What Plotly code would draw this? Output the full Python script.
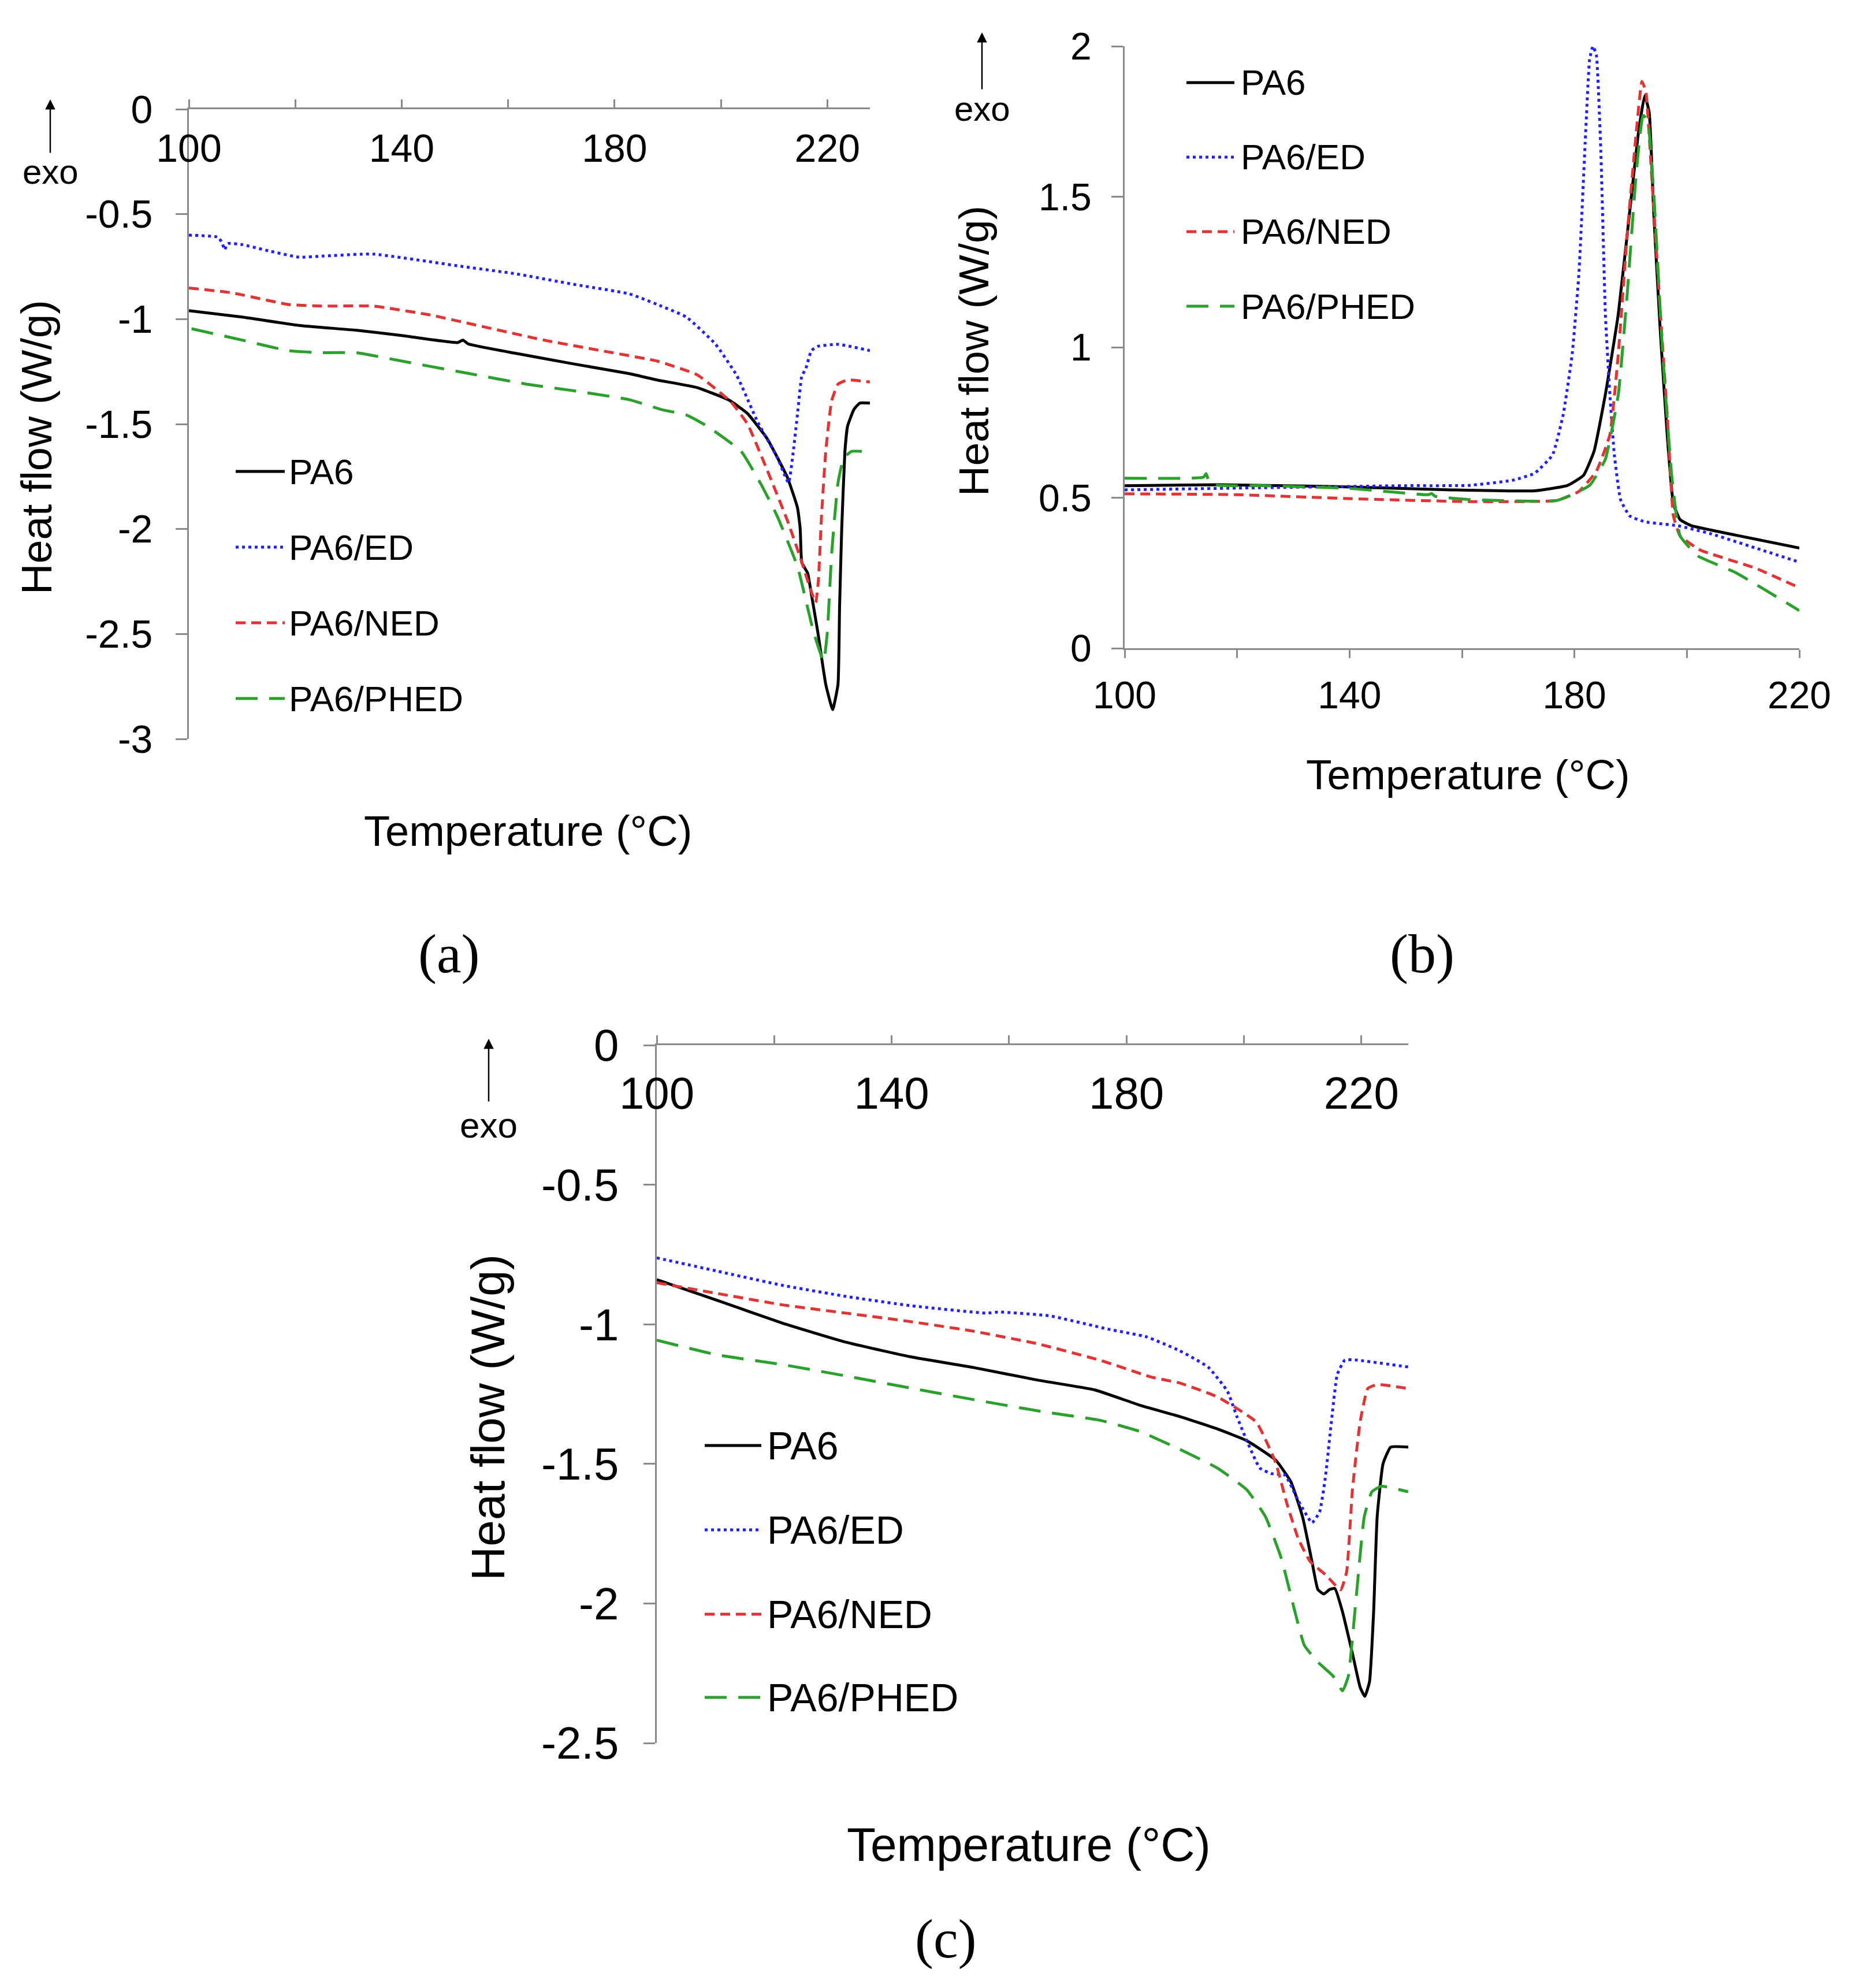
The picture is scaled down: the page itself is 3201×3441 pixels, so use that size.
import plotly.graph_objects as go

W, H = 3201, 3441

series_names = ["PA6", "PA6/ED", "PA6/NED", "PA6/PHED"]
series_colors = ["#000000", "#1f1fff", "#e03535", "#2ca02c"]
series_dashes = ["solid", "5px,6px", "17px,10px", "38px,20px"]

temp_ticks = [100, 120, 140, 160, 180, 200, 220]
temp_ticktext = ["100", "", "140", "", "180", "", "220"]
a_yticks = [0, -0.5, -1, -1.5, -2, -2.5, -3]
b_yticks = [0, 0.5, 1, 1.5, 2]
c_yticks = [0, -0.5, -1, -1.5, -2, -2.5]

# ---- panel (a) ----
a_pa6_t = [100, 110, 120.7, 131.4, 140, 150.5, 151.5, 152.5, 161.4, 172, 182.8, 188, 195.5, 201.6, 205,
           208.7, 212.5, 214.4, 214.9, 215.2, 216.3, 217, 218.2, 219.7, 221, 222, 222.3, 222.7, 223.3,
           223.8, 225, 226.1, 228]
a_pa6_hf = [-0.96, -0.99, -1.03, -1.053, -1.078, -1.112, -1.10, -1.118, -1.163, -1.212, -1.26, -1.29, -1.326,
            -1.387, -1.45, -1.57, -1.755, -1.90, -2.0, -2.16, -2.21, -2.31, -2.49, -2.74, -2.86, -2.74, -2.37,
            -2.0, -1.63, -1.51, -1.43, -1.40, -1.40]
a_ed_t = [100, 105.5, 106.3, 106.7, 107.3, 110, 115, 120.7, 125, 134.6, 150.7, 161.4, 172, 182.8, 188, 193.5,
          199, 203, 206.9, 210.6, 212.7, 213.6, 214.4, 215.2, 215.9, 217, 218.2, 222, 228]
a_ed_hf = [-0.60, -0.61, -0.64, -0.67, -0.64, -0.645, -0.675, -0.705, -0.70, -0.69, -0.747, -0.784, -0.833,
           -0.88, -0.93, -0.99, -1.12, -1.27, -1.49, -1.66, -1.78, -1.63, -1.45, -1.27, -1.24, -1.15, -1.13,
           -1.12, -1.15]
a_ned_t = [100, 107.9, 118.6, 125, 134.6, 145.3, 156, 166.7, 177.4, 188, 195.5, 201.9, 205, 208.7, 212.5,
           215.1, 216.6, 217.8, 218.3, 218.9, 219.7, 220.8, 222, 223.8, 228]
a_ned_hf = [-0.852, -0.874, -0.93, -0.938, -0.938, -0.98, -1.04, -1.10, -1.15, -1.20, -1.265, -1.395, -1.50,
            -1.72, -1.96, -2.15, -2.27, -2.35, -2.25, -1.94, -1.63, -1.39, -1.31, -1.29, -1.30]
a_phed_t = [100.5, 110, 118.6, 125, 131.4, 142.1, 152.8, 163.5, 172, 182.8, 188.7, 193.5, 197.4, 203.8, 207.6,
            210.6, 214.4, 217.4, 219.3, 220, 220.8, 222, 223.1, 224.6, 226.5]
a_phed_hf = [-1.046, -1.10, -1.15, -1.16, -1.16, -1.21, -1.26, -1.31, -1.34, -1.384, -1.43, -1.457, -1.51,
             -1.63, -1.79, -1.94, -2.18, -2.49, -2.63, -2.49, -2.12, -1.78, -1.66, -1.63, -1.63]

# ---- panel (b) ----
b_pa6_t = [100, 116.6, 137.4, 158.2, 172.9, 178.8, 181.6, 183.5, 185.5, 187.8, 190.2, 191.4, 192.5, 193.3,
           194.1, 195.3, 196.5, 197.6, 198.8, 200.8, 208.6, 220]
b_pa6_hf = [0.54, 0.543, 0.537, 0.526, 0.523, 0.541, 0.574, 0.655, 0.843, 1.11, 1.514, 1.715, 1.836, 1.78,
            1.447, 1.044, 0.709, 0.48, 0.427, 0.407, 0.376, 0.333]
b_ed_t = [100, 120, 150, 161.2, 169, 172.9, 176.1, 178, 179.6, 180.8, 182, 182.7, 183.3, 183.9, 184.7, 185.5,
          186.3, 187.1, 188.2, 189.8, 192.5, 198.4, 204.3, 212.2, 220]
b_ed_hf = [0.526, 0.532, 0.54, 0.541, 0.558, 0.581, 0.642, 0.776, 0.977, 1.246, 1.715, 1.957, 2.0, 1.97,
           1.648, 1.11, 0.843, 0.642, 0.494, 0.44, 0.42, 0.407, 0.38, 0.333, 0.286]
b_ned_t = [100, 120, 140, 161.2, 176.9, 180.8, 183.9, 186.3, 187.8, 189.4, 191, 192, 192.7, 193.7, 195.3,
           196.5, 197.6, 198.8, 202.4, 212.2, 220]
b_ned_hf = [0.513, 0.51, 0.497, 0.487, 0.491, 0.521, 0.588, 0.709, 0.977, 1.38, 1.715, 1.883, 1.85, 1.58,
            1.11, 0.776, 0.44, 0.373, 0.326, 0.266, 0.201]
b_phed_t = [100, 114, 114.5, 115.2, 125, 140, 154, 154.6, 155.2, 161.2, 176.9, 182.7, 185.5, 187.8, 189.4,
            191, 192.2, 193, 194.1, 195.7, 197.3, 198.8, 202, 208.6, 220]
b_phed_hf = [0.565, 0.568, 0.58, 0.545, 0.54, 0.531, 0.51, 0.514, 0.505, 0.494, 0.491, 0.541, 0.628, 0.843,
             1.18, 1.58, 1.77, 1.755, 1.514, 0.977, 0.574, 0.373, 0.306, 0.252, 0.125]

# ---- panel (c) ----
c_pa6_t = [100, 110.4, 121.3, 132.2, 143.1, 154, 164.9, 174.6, 182.3, 189, 195.5, 200.5, 205.4, 208, 210,
           211.6, 212.6, 213.6, 214.6, 215.5, 216.8, 218.5, 219.8, 220.6, 221.4, 222.1, 222.7, 223.7, 225, 228]
c_pa6_hf = [-0.84, -0.915, -0.995, -1.064, -1.116, -1.155, -1.20, -1.235, -1.29, -1.33, -1.375, -1.417,
            -1.486, -1.564, -1.69, -1.85, -1.95, -1.966, -1.95, -1.946, -2.03, -2.18, -2.30, -2.333, -2.28,
            -2.03, -1.69, -1.50, -1.44, -1.44]
c_ed_t = [100, 110.4, 121.3, 132.2, 143.1, 156.1, 158.3, 167, 176.8, 183.4, 189, 193.9, 197.2, 198.8, 200.5,
          202.7, 204.7, 207, 209.3, 211.6, 212.9, 213.9, 214.9, 215.9, 217.2, 219.1, 228]
c_ed_hf = [-0.762, -0.81, -0.86, -0.90, -0.933, -0.96, -0.956, -0.97, -1.017, -1.045, -1.094, -1.153, -1.24,
           -1.33, -1.417, -1.515, -1.535, -1.54, -1.633, -1.711, -1.672, -1.545, -1.35, -1.18, -1.128, -1.128,
           -1.153]
c_ned_t = [100, 110.4, 121.3, 132.2, 143.1, 154, 164.9, 175.7, 184.4, 189, 195.5, 202.1, 205.4, 207.3, 209.3,
           211.3, 213.9, 216.5, 217.5, 218.5, 219.8, 221.1, 222.7, 228]
c_ned_hf = [-0.851, -0.89, -0.93, -0.96, -0.99, -1.025, -1.07, -1.13, -1.19, -1.21, -1.26, -1.35, -1.495,
            -1.64, -1.77, -1.85, -1.897, -1.951, -1.887, -1.59, -1.35, -1.23, -1.216, -1.23]
c_phed_t = [100, 110.4, 121.3, 132.2, 143.1, 154, 164.9, 175.7, 182.3, 189, 195.5, 200.5, 203.7, 206.4, 208.7,
            210.3, 212.6, 215.2, 216.8, 217.8, 219.1, 220.5, 221.8, 223.4, 228]
c_phed_hf = [-1.057, -1.11, -1.144, -1.185, -1.228, -1.27, -1.31, -1.345, -1.384, -1.447, -1.515, -1.593, -1.69,
             -1.84, -2.03, -2.15, -2.21, -2.26, -2.313, -2.26, -1.985, -1.69, -1.60, -1.58, -1.60]

panels = [
    ("", [(a_pa6_t, a_pa6_hf), (a_ed_t, a_ed_hf), (a_ned_t, a_ned_hf), (a_phed_t, a_phed_hf)]),
    ("2", [(b_pa6_t, b_pa6_hf), (b_ed_t, b_ed_hf), (b_ned_t, b_ned_hf), (b_phed_t, b_phed_hf)]),
    ("3", [(c_pa6_t, c_pa6_hf), (c_ed_t, c_ed_hf), (c_ned_t, c_ned_hf), (c_phed_t, c_phed_hf)]),
]


def px(x):
    return x / W


def py(y):
    return 1 - y / H


fig = go.Figure()

for suffix, curves in panels:
    for i, (t, hf) in enumerate(curves):
        fig.add_trace(go.Scatter(
            x=t, y=hf, mode="lines", name=series_names[i], showlegend=False,
            line=dict(color=series_colors[i], width=5, dash=series_dashes[i],
                      shape="spline", smoothing=0.4),
            xaxis="x" + suffix, yaxis="y" + suffix,
        ))

AXIS_GREY = "#8a8a8a"
FONT = "Liberation Sans, Arial, sans-serif"


def yticktext(vals):
    return [("%g" % v) for v in vals]


def xaxis(domain, rng, anchor, side, font_size, standoff):
    d = dict(domain=domain, range=rng, anchor=anchor, side=side, automargin=False,
             tickmode="array", tickvals=temp_ticks, ticktext=temp_ticktext,
             ticks="outside", ticklen=14, tickwidth=3, tickcolor=AXIS_GREY,
             showline=True, linecolor=AXIS_GREY, linewidth=3,
             showgrid=False, zeroline=False,
             tickfont=dict(family=FONT, size=font_size, color="black"),
             ticklabelstandoff=standoff)
    if side == "top":
        d["ticklabelposition"] = "inside"
        d["ticklabeloverflow"] = "allow"
    return d


def yaxis(domain, rng, anchor, vals, font_size, standoff):
    return dict(domain=domain, range=rng, anchor=anchor, automargin=False,
                tickmode="array", tickvals=vals, ticktext=yticktext(vals),
                ticks="outside", ticklen=20, tickwidth=3, tickcolor=AXIS_GREY,
                showline=True, linecolor=AXIS_GREY, linewidth=3,
                showgrid=False, zeroline=False,
                tickfont=dict(family=FONT, size=font_size, color="black"),
                ticklabelstandoff=standoff)


fig.update_layout(
    template="none",
    width=W, height=H,
    margin=dict(l=0, r=0, t=0, b=0, pad=0),
    paper_bgcolor="white", plot_bgcolor="white",
    xaxis=xaxis([px(319), px(1498)], [100, 228], "y", "top", 68, 54),
    yaxis=yaxis([py(1271), py(181)], [-3, 0], "x", a_yticks, 68, 26),
    xaxis2=xaxis([px(1939), px(3107)], [100, 220], "y2", "bottom", 66, 8),
    yaxis2=yaxis([py(1114), py(72)], [0, 2], "x2", b_yticks, 66, 21),
    xaxis3=xaxis([px(1129), px(2430)], [100, 228], "y3", "top", 78, 68),
    yaxis3=yaxis([py(3009), py(1801)], [-2.5, 0], "x3", c_yticks, 78, 27),
)

# axis titles, exo arrows, legends and captions per panel (pixel positions)
panel_text = [
    dict(xt=(906, 1430, 74), yt=(55, 766, 74), exo=(79, 258, 164, 290, 60),
         leg=(400, 485, 490, [808, 939, 1070, 1201], 62), cap=("(a)", 769, 1642)),
    dict(xt=(2533, 1332, 73), yt=(1677, 600, 73), exo=(1692, 148, 48, 181, 60),
         leg=(2046, 2129, 2138, [135, 264, 393, 522], 62), cap=("(b)", 2454, 1642)),
    dict(xt=(1773, 3184, 82), yt=(836, 2446, 82), exo=(838, 1900, 1790, 1939, 62),
         leg=(1212, 1310, 1318, [2494, 2640, 2786, 2930], 68), cap=("(c)", 1629, 3347)),
]


def label(x, y, text, size, family=FONT, xanchor="center", angle=0):
    fig.add_annotation(x=px(x), y=py(y), xref="paper", yref="paper", text=text,
                       xanchor=xanchor, yanchor="middle", textangle=angle, showarrow=False,
                       font=dict(family=family, size=size, color="black"))


for p in panel_text:
    x, y, s = p["xt"]
    label(x, y, "Temperature (°C)", s)
    x, y, s = p["yt"]
    label(x, y, "Heat flow (W/g)", s, angle=-90)
    ex, tail, head, ty, s = p["exo"]
    fig.add_annotation(x=px(ex), y=py(head), xref="paper", yref="paper", text="",
                       showarrow=True, ax=0, ay=tail - head, arrowhead=2, arrowsize=1.4,
                       arrowwidth=2.5, arrowcolor="black")
    label(ex, ty, "exo", s)
    x0, x1, xtext, rows, s = p["leg"]
    for i, ry in enumerate(rows):
        fig.add_shape(type="line", xref="paper", yref="paper",
                      x0=px(x0), x1=px(x1), y0=py(ry), y1=py(ry),
                      line=dict(color=series_colors[i], width=5, dash=series_dashes[i]))
        label(xtext, ry, series_names[i], s, xanchor="left")
    cap, cx, cy = p["cap"]
    label(cx, cy, cap, 96, family="Liberation Serif, Times New Roman, serif")

fig.write_html("out.html")
